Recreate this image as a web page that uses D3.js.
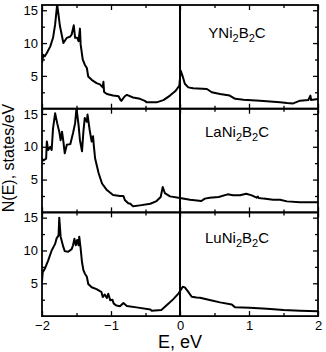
<!DOCTYPE html>
<html><head><meta charset="utf-8">
<script src="https://cdn.jsdelivr.net/npm/d3@7/dist/d3.min.js"></script>
<style>body{margin:0;background:#fff}svg{display:block}text{font-family:"Liberation Sans",Arial,sans-serif;fill:#000}</style>
</head><body><svg id="c" width="326" height="352"></svg>
<script>
const compounds = ["Y","La","Lu"];
const energyY = [-2.0,-1.98,-1.96,-1.93,-1.88,-1.84,-1.81,-1.78,-1.74,-1.69,-1.64,-1.59,-1.57,-1.54,-1.52,-1.49,-1.47,-1.45,-1.44,-1.41,-1.38,-1.35,-1.33,-1.28,-1.21,-1.16,-1.12,-1.11,-1.10,-1.06,-0.97,-0.89,-0.86,-0.85,-0.80,-0.77,-0.68,-0.58,-0.51,-0.48,-0.34,-0.24,-0.145,-0.07,-0.01,0.01,0.04,0.07,0.12,0.19,0.39,0.46,0.58,0.72,0.80,0.92,1.16,1.45,1.55,1.64,1.74,1.86,1.89,1.90,2.0];
const dosY = [7.0,8.2,8.0,8.5,9.5,10.8,12.8,15.9,12.6,10.0,10.8,11.0,11.3,12.7,10.8,10.8,10.3,12.2,9.8,7.5,6.7,6.2,4.9,4.4,3.9,3.7,3.25,4.1,2.55,2.24,2.0,1.9,1.3,1.2,1.9,2.1,1.7,1.5,1.2,0.97,0.97,1.3,2.0,2.65,3.5,5.8,4.9,3.8,3.25,3.1,3.0,2.5,2.24,2.0,1.5,1.37,1.22,0.97,0.87,0.81,1.22,1.33,2.0,1.33,1.48];
const energyLa = [-2.0,-1.98,-1.94,-1.93,-1.91,-1.88,-1.86,-1.84,-1.81,-1.78,-1.75,-1.73,-1.71,-1.69,-1.67,-1.64,-1.59,-1.55,-1.52,-1.50,-1.47,-1.45,-1.42,-1.40,-1.38,-1.35,-1.34,-1.31,-1.28,-1.26,-1.25,-1.23,-1.18,-1.13,-1.06,-0.97,-0.87,-0.82,-0.80,-0.75,-0.72,-0.68,-0.58,-0.43,-0.34,-0.28,-0.25,-0.22,-0.145,0,0.145,0.31,0.36,0.43,0.56,0.69,0.77,0.87,0.96,1.04,1.11,1.13,1.14,1.21,1.35,1.45,1.55,1.74,2.0];
const dosLa = [8.2,7.9,8.2,10.8,9.5,10.0,9.5,12.8,15.1,13.6,12.3,11.0,12.3,10.8,9.0,10.3,10.4,12.1,13.6,15.9,13.3,11.0,9.3,12.3,14.4,13.8,14.9,12.6,10.8,11.6,10.3,8.2,6.0,4.4,3.4,2.65,2.5,2.5,1.9,1.4,1.32,0.92,1.07,1.32,1.73,2.34,3.86,2.95,2.44,2.2,1.94,1.73,2.1,2.24,2.34,2.75,2.6,2.6,2.85,2.6,2.24,2.4,2.2,2.1,1.94,1.94,1.68,1.53,1.53];
const energyLu = [-2.0,-1.99,-1.96,-1.91,-1.86,-1.81,-1.79,-1.76,-1.75,-1.73,-1.69,-1.67,-1.62,-1.57,-1.55,-1.53,-1.51,-1.49,-1.47,-1.46,-1.44,-1.42,-1.40,-1.38,-1.35,-1.33,-1.28,-1.21,-1.16,-1.14,-1.12,-1.09,-1.06,-1.04,-1.01,-0.98,-0.96,-0.92,-0.87,-0.82,-0.77,-0.63,-0.43,-0.41,-0.27,-0.19,-0.10,-0.02,0.04,0.07,0.12,0.17,0.24,0.29,0.43,0.58,0.75,0.80,1.01,1.26,1.50,1.74,2.0];
const dosLu = [5.2,6.7,7.2,8.5,10.0,11.0,11.8,12.3,15.0,12.1,10.5,9.9,9.8,10.2,10.8,11.8,10.8,11.6,10.8,12.1,10.3,8.2,7.0,6.5,6.0,4.9,4.4,4.1,3.8,3.7,2.9,3.3,2.75,3.4,2.4,2.5,1.9,1.6,1.5,2.0,1.53,1.33,1.02,0.81,0.92,1.68,2.55,3.46,4.47,4.38,3.7,2.95,2.85,2.8,2.44,2.09,1.78,1.33,1.27,1.12,0.92,0.81,0.72];
const xTicks = [-2,-1,0,1,2];
const xMinor = [-1.5,-0.5,0.5,1.5];
const yTicks = [5,10,15];
const yMinor = [2.5,7.5,12.5];

const energies = [energyY, energyLa, energyLu];
const doses = [dosY, dosLa, dosLu];
const labelOffsets = [33.3, 28.7, 31];

const svg = d3.select("#c");
const L = 42, R = 318, T = 5, PH = 103.7;
const x = d3.scaleLinear().domain([-2,2]).range([L,R]);

compounds.forEach((c,i)=>{
  const top = T + i*PH, bot = top + PH;
  const y = d3.scaleLinear().domain([0,15.8]).range([bot, top]);
  const g = svg.append("g");
  const cid = "clip"+i;
  svg.append("clipPath").attr("id",cid).append("rect").attr("x",L).attr("y",top).attr("width",R-L).attr("height",PH);
  const line = d3.line().x((d,k)=>x(energies[i][k])).y(d=>y(d));
  g.append("path").datum(doses[i]).attr("d",line).attr("clip-path",`url(#${cid})`)
    .attr("fill","none").attr("stroke","#000").attr("stroke-width",2).attr("stroke-linejoin","round");
  const mk = (axisFn, scale, vals, size, tr) => {
    const a = g.append("g").attr("transform",tr)
      .call(axisFn(scale).tickValues(vals).tickSize(size).tickFormat(""));
    a.select(".domain").remove();
    a.selectAll("line").attr("stroke","#000").attr("stroke-width",1.3);
  };
  mk(d3.axisTop, x, xTicks, 5, `translate(0,${bot})`);
  mk(d3.axisTop, x, xMinor, 3, `translate(0,${bot})`);
  mk(d3.axisBottom, x, xTicks, 5, `translate(0,${top})`);
  mk(d3.axisBottom, x, xMinor, 3, `translate(0,${top})`);
  mk(d3.axisRight, y, yTicks, 5, `translate(${L},0)`);
  mk(d3.axisRight, y, yMinor, 3, `translate(${L},0)`);
  mk(d3.axisLeft, y, yTicks, 5, `translate(${R},0)`);
  mk(d3.axisLeft, y, yMinor, 3, `translate(${R},0)`);
  const yl = g.append("g").attr("transform",`translate(${L},0)`)
    .call(d3.axisLeft(y).tickValues(yTicks).tickSize(0).tickPadding(4));
  yl.select(".domain").remove();
  yl.selectAll("text").attr("font-size",13).attr("font-family",'"Liberation Sans",Arial,sans-serif');
  g.append("rect").attr("x",L).attr("y",top).attr("width",R-L).attr("height",PH)
    .attr("fill","none").attr("stroke","#000").attr("stroke-width",1.8);
  const t = g.append("text").attr("x",237).attr("y",top+labelOffsets[i]).attr("text-anchor","middle").attr("font-size",15);
  t.append("tspan").text(c+"Ni");
  t.append("tspan").attr("font-size",11).attr("dy",4).text("2");
  t.append("tspan").attr("dy",-4).text("B");
  t.append("tspan").attr("font-size",11).attr("dy",4).text("2");
  t.append("tspan").attr("dy",-4).text("C");
  if (i===2) {
    const xl = g.append("g").attr("transform",`translate(0,${bot})`)
      .call(d3.axisBottom(x).tickValues(xTicks).tickSize(0).tickPadding(5).tickFormat(d3.format("d")));
    xl.select(".domain").remove();
    xl.selectAll("text").attr("font-size",13).attr("font-family",'"Liberation Sans",Arial,sans-serif');
  }
});
svg.append("line").attr("x1",x(0)).attr("x2",x(0)).attr("y1",T).attr("y2",T+3*PH)
  .attr("stroke","#000").attr("stroke-width",2);
svg.append("text").attr("x",x(0)).attr("y",348).attr("text-anchor","middle").attr("font-size",18).text("E, eV");
svg.append("text").attr("transform","translate(14,158) rotate(-90)").attr("text-anchor","middle").attr("font-size",16).text("N(E), states/eV");
</script></body></html>
